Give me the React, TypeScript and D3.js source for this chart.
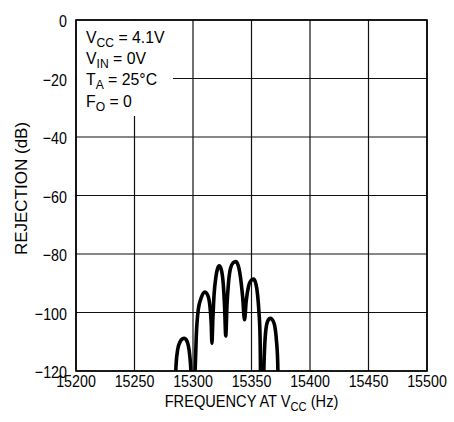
import * as d3 from "d3";
import { useEffect, useRef } from "react";

// values (Hz, dB); points below -120 are clipped by the plot
const freqHz = [
  15284.5, 15285.5, 15287, 15289, 15291, 15292.5, 15294, 15295.8, 15297.3, 15298.3, 15299,
  15301, 15301.8, 15302.8, 15304.5, 15307, 15310, 15312.5, 15314.5, 15315.6, 15316.2,
  15316.9, 15318, 15319.5, 15321, 15322.5, 15324.3, 15325.8, 15327, 15328,
  15329, 15330.3, 15332, 15334.3, 15336.5, 15338.7, 15340.6, 15342.5, 15344,
  15345.5, 15347.5, 15349.8, 15351.7, 15353.6, 15355.2, 15356.4, 15357.3, 15358.2,
  15359.8, 15360.8, 15362, 15363.8, 15366, 15367.5, 15369.5, 15371.2, 15372.4, 15373.2,
];
const rejectionDb = [
  -132, -118, -112.5, -110, -109, -108.8, -109.2, -111, -115, -121, -132,
  -132, -120, -108, -99, -95, -93, -94, -98, -104, -110.5,
  -103, -94, -88, -85, -84, -85.5, -90, -98, -108,
  -98, -90, -85, -83, -82.6, -84, -88, -95, -102.5,
  -96, -91, -89, -88.6, -90, -94, -100, -108, -132,
  -132, -116, -107, -103, -102, -102.3, -104, -109, -117, -132,
];
const xTicks = [15200, 15250, 15300, 15350, 15400, 15450, 15500];
const yTicks = [0, -20, -40, -60, -80, -100, -120];

const W = 454;
const H = 422;
const margin = { top: 20, right: 27, bottom: 51, left: 76 };
const FONT = "'Liberation Sans', Arial, sans-serif";

export default function App() {
  const ref = useRef<SVGSVGElement>(null);

  useEffect(() => {
    if (!ref.current) return;
    const svg = d3.select(ref.current);
    svg.selectAll("*").remove();

    const innerW = W - margin.left - margin.right;
    const innerH = H - margin.top - margin.bottom;

    const x = d3.scaleLinear().domain([15200, 15500]).range([0, innerW]);
    const y = d3.scaleLinear().domain([-120, 0]).range([innerH, 0]);

    const g = svg.append("g").attr("transform", `translate(${margin.left},${margin.top})`);

    // the reference face is condensed; squeeze each text horizontally
    const label = (px: number, py: number, anchor: string, sq: number, rot = 0) =>
      g
        .append("text")
        .attr("transform", `translate(${px},${py}) rotate(${rot}) scale(${sq},1)`)
        .attr("text-anchor", anchor)
        .attr("font-family", FONT)
        .attr("font-size", 17)
        .attr("fill", "#000");

    g.append("clipPath")
      .attr("id", "plot-clip")
      .append("rect")
      .attr("width", innerW)
      .attr("height", innerH);

    // grid
    g.selectAll("line.vg")
      .data(xTicks)
      .join("line")
      .attr("x1", (d) => x(d))
      .attr("x2", (d) => x(d))
      .attr("y1", 0)
      .attr("y2", innerH)
      .attr("stroke", "#111")
      .attr("stroke-width", 1.2);
    g.selectAll("line.hg")
      .data(yTicks)
      .join("line")
      .attr("x1", 0)
      .attr("x2", innerW)
      .attr("y1", (d) => y(d))
      .attr("y2", (d) => y(d))
      .attr("stroke", "#111")
      .attr("stroke-width", 1.2);

    // curve
    const pts = freqHz.map((f, i) => [f, rejectionDb[i]] as [number, number]);
    const line = d3
      .line<[number, number]>()
      .x((d) => x(d[0]))
      .y((d) => y(d[1]))
      .curve(d3.curveMonotoneX);
    g.append("path")
      .datum(pts)
      .attr("d", line)
      .attr("fill", "none")
      .attr("stroke", "#000")
      .attr("stroke-width", 3.6)
      .attr("stroke-linejoin", "round")
      .attr("clip-path", "url(#plot-clip)");

    // frame
    g.append("rect")
      .attr("width", innerW)
      .attr("height", innerH)
      .attr("fill", "none")
      .attr("stroke", "#000")
      .attr("stroke-width", 1.6);

    // legend box
    g.append("rect")
      .attr("x", 1)
      .attr("y", 1)
      .attr("width", 96)
      .attr("height", 95)
      .attr("fill", "#fff");

    const legend = [
      ["V", "CC", " = 4.1V"],
      ["V", "IN", " = 0V"],
      ["T", "A", " = 25°C"],
      ["F", "O", " = 0"],
    ];
    legend.forEach((row, i) => {
      const t = label(10, 23 + i * 21.2, "start", 0.93);
      t.append("tspan").text(row[0]);
      t.append("tspan").attr("font-size", 13).attr("dy", 4).text(row[1]);
      t.append("tspan").attr("dy", -4).text(row[2]);
    });

    // tick labels
    yTicks.forEach((d) => {
      label(-9, y(d) + 7, "end", 0.84).text(d < 0 ? "\u2212" + Math.abs(d) : String(d));
    });
    xTicks.forEach((d) => {
      label(x(d), innerH + 16, "middle", 0.84).text(String(d));
    });

    // axis titles
    const xt = label(innerW / 2, innerH + 36, "middle", 0.86);
    xt.append("tspan").text("FREQUENCY AT V");
    xt.append("tspan").attr("font-size", 13).attr("dy", 4).text("CC");
    xt.append("tspan").attr("dy", -4).text(" (Hz)");

    label(-49, innerH / 2 - 7, "middle", 1.0, -90).text("REJECTION (dB)");
  }, []);

  return (
    <svg
      ref={ref}
      width={W}
      height={H}
      style={{ position: "absolute", left: 0, top: 0, background: "#fff" }}
    />
  );
}
